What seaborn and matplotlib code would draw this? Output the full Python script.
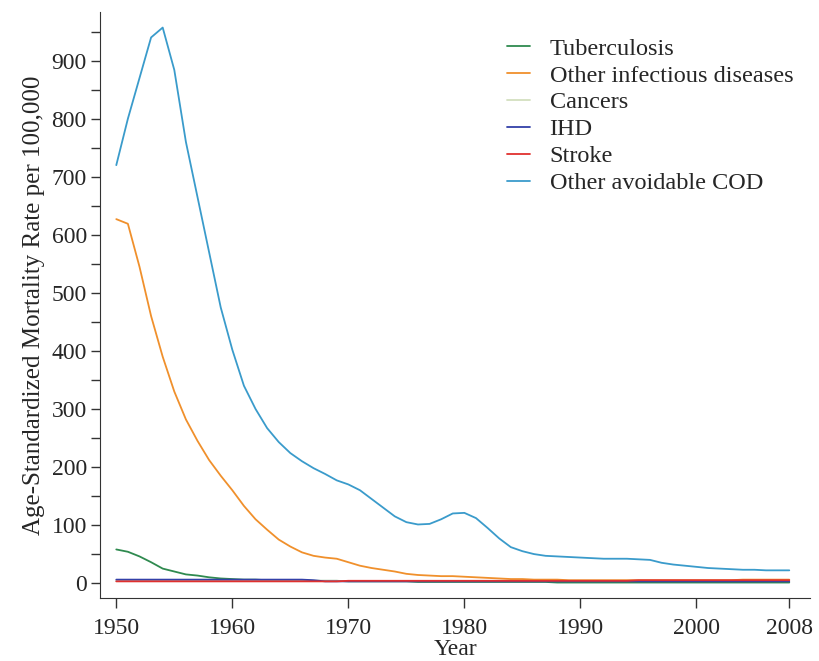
import numpy as np
import pandas as pd
import matplotlib
matplotlib.use('Agg')
import matplotlib.pyplot as plt
import seaborn as sns

years = list(range(1950, 2009))

tuberculosis = [58, 54, 46, 36, 25, 20, 15, 13, 10, 8,
                7, 6, 6, 5, 5, 5, 5, 4, 4, 4,
                3, 3, 3, 3, 3, 3, 2, 2, 2, 2,
                2, 2, 2, 2, 2, 2, 2, 2, 1, 1,
                1, 1, 1, 1, 1, 1, 1, 1, 1, 1,
                1, 1, 1, 1, 1, 1, 1, 1, 1]

other_infectious = [627, 619, 545, 460, 390, 330, 282, 245, 212, 185,
                    160, 133, 110, 92, 75, 63, 53, 47, 44, 42,
                    36, 30, 26, 23, 20, 16, 14, 13, 12, 12,
                    11, 10, 9, 8, 7, 7, 6, 6, 6, 5,
                    5, 5, 5, 5, 5, 5, 5, 5, 5, 5,
                    5, 5, 5, 5, 6, 6, 6, 6, 6]

cancers = [4] * 59

ihd = [6, 6, 6, 6, 6, 6, 6, 6, 6, 6,
       6, 6, 6, 6, 6, 6, 6, 5, 3, 3,
       3, 3, 3, 3, 3, 3, 3, 3, 3, 3,
       3, 3, 3, 3, 3, 3, 3, 3, 3, 3,
       3, 3, 3, 3, 3, 3, 3, 3, 3, 3,
       3, 3, 3, 3, 3, 3, 3, 3, 3]

stroke = [3, 3, 3, 3, 3, 3, 3, 3, 3, 3,
          3, 3, 3, 3, 3, 3, 3, 3, 3, 3,
          4, 4, 4, 4, 4, 4, 4, 4, 4, 4,
          4, 4, 4, 4, 4, 4, 4, 4, 4, 4,
          4, 4, 4, 4, 4, 5, 5, 5, 5, 5,
          5, 5, 5, 5, 5, 5, 5, 5, 5]

other_avoidable = [720, 800, 870, 940, 957, 884, 760, 665, 570, 475,
                   402, 340, 300, 267, 243, 224, 210, 198, 188, 177,
                   170, 160, 145, 130, 115, 105, 101, 102, 110, 120,
                   121, 112, 95, 77, 62, 55, 50, 47, 46, 45,
                   44, 43, 42, 42, 42, 41, 40, 35, 32, 30,
                   28, 26, 25, 24, 23, 23, 22, 22, 22]

causes = ['Tuberculosis', 'Other infectious diseases', 'Cancers', 'IHD',
          'Stroke', 'Other avoidable COD']
series = [tuberculosis, other_infectious, cancers, ihd, stroke, other_avoidable]
colors = ['#2f8a4f', '#f0902c', '#d3dfbf', '#3340a8', '#e0302e', '#3a9bcb']

df = pd.concat([pd.DataFrame({'Year': years, 'rate': vals, 'cause': name})
                for name, vals in zip(causes, series)])

sns.set_style('ticks')
plt.rcParams['font.family'] = ['Liberation Serif', 'DejaVu Serif']

fig = plt.figure(figsize=(8.2, 6.61), dpi=100)
ax = fig.add_axes([0.122, 0.095, 0.866, 0.887])

sns.lineplot(data=df, x='Year', y='rate', hue='cause', hue_order=causes,
             palette=colors, linewidth=1.3, ax=ax)

ax.set_xlim(1948.6, 2009.8)
ax.set_ylim(-26, 984)
ax.set_xticks([1950, 1960, 1970, 1980, 1990, 2000, 2008])
ax.set_yticks(range(0, 1000, 100))
ax.set_yticks(range(50, 1000, 100), minor=True)
ax.tick_params(axis='x', length=7.5, width=1, labelsize=17, pad=7, color='#333333')
ax.tick_params(axis='y', which='both', length=6.5, width=1, labelsize=17, pad=3,
               color='#333333')
for s in ['left', 'bottom']:
    ax.spines[s].set_color('#333333')
sns.despine(ax=ax)

ax.set_xlabel('Year', fontsize=17, labelpad=0)
ax.set_ylabel('Age-Standardized Mortality Rate per 100,000', fontsize=18, labelpad=5)

leg = ax.legend(loc='upper right', bbox_to_anchor=(1.0, 0.985), frameon=False,
                fontsize=17.5, handlelength=0.95, handletextpad=0.8,
                labelspacing=0.2, borderaxespad=0.3)
for line in leg.get_lines():
    line.set_linewidth(1.3)

fig.savefig('out.png', dpi=100)
